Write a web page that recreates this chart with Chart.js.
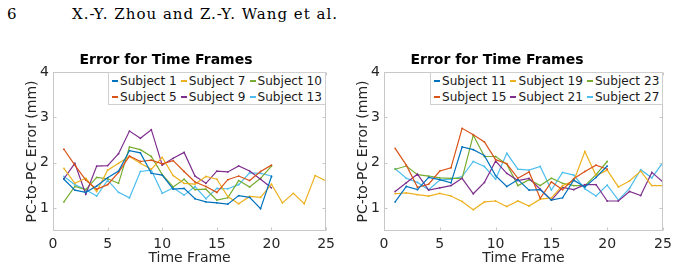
<!DOCTYPE html>
<html><head><meta charset="utf-8">
<script src="https://cdn.jsdelivr.net/npm/chart.js@4/dist/chart.umd.min.js"></script>
<style>
html,body{margin:0;padding:0;background:#fff;width:677px;height:272px;overflow:hidden;position:relative}
.hdr{position:absolute;top:4px;font-family:"DejaVu Serif",serif;font-size:15px;color:#000;white-space:nowrap;line-height:20px}
canvas{position:absolute;top:0}
.legend{position:absolute;background:#fff;border:1px solid #cfcfcf;box-sizing:border-box;padding:0 3px 0 3px;display:grid;grid-template-rows:16px 16px;grid-auto-flow:column;column-gap:4px;font-family:"DejaVu Sans",sans-serif;font-size:12.1px;color:#1a1a1a;line-height:16px;white-space:nowrap}
.legend .it{display:flex;align-items:center}
.legend .sw{display:inline-block;width:6px;height:1.3px;margin-right:2px}
</style>
</head><body>
<div class="hdr" style="left:7px">6</div>
<div class="hdr" style="left:72px;letter-spacing:1px">X.-Y. Zhou and Z.-Y. Wang et al.</div>
<canvas id="c1" width="340" height="272" style="left:0"></canvas>
<canvas id="c2" width="346" height="272" style="left:331px"></canvas>
<script>
// ---- data ----
const frames = [1,2,3,4,5,6,7,8,9,10,11,12,13,14,15,16,17,18,19,20,21,22,23,24,25];
const xTicks = [0,5,10,15,20,25];
const yTicks = [1,2,3,4];
const chartTitle = 'Error for Time Frames';
const xTitle = 'Time Frame';
const yTitle = 'PC-to-PC Error (mm)';
const colors = ['#0072BD','#D95319','#EDB120','#7E2F8E','#77AC30','#4DBEEE'];

const leftNames = ['Subject 1','Subject 5','Subject 7','Subject 9','Subject 10','Subject 13'];
const subject1  = [1.64,1.40,1.35,1.49,1.67,1.82,2.27,2.22,1.77,1.73,1.42,1.44,1.21,1.14,1.12,1.09,1.28,1.24,0.99,1.70];
const subject5  = [2.30,1.95,1.62,1.42,1.52,1.79,2.15,2.03,2.06,1.98,2.05,1.81,1.58,1.48,1.35,1.63,1.71,1.61,1.81,1.95];
const subject7  = [1.88,1.55,1.66,1.37,1.84,1.99,2.14,1.99,1.86,2.12,1.72,1.55,1.53,1.70,1.64,1.26,1.10,1.26,1.24,1.53,1.12,1.33,1.10,1.72,1.60];
const subject9  = [1.65,1.99,1.31,1.93,1.94,2.20,2.70,2.54,2.73,1.95,2.10,2.23,1.71,1.55,1.82,1.80,1.93,1.82,1.64,1.45];
const subject10 = [1.14,1.48,1.41,1.68,1.65,1.55,2.35,2.29,2.14,1.74,1.47,1.64,1.41,1.42,1.18,1.23,1.61,1.47,1.66,1.93];
const subject13 = [1.70,1.52,1.41,1.27,1.62,1.35,1.23,1.81,1.84,1.33,1.45,1.29,1.48,1.21,1.44,1.43,1.52,1.78,1.77,1.71];

const rightNames = ['Subject 11','Subject 15','Subject 19','Subject 21','Subject 23','Subject 27'];
const subject11 = [1.14,1.48,1.41,1.68,1.63,1.56,2.35,2.29,2.16,1.72,1.48,1.63,1.40,1.41,1.18,1.23,1.62,1.47,1.68,1.93];
const subject15 = [2.32,1.95,1.46,1.53,1.82,1.89,2.76,2.62,2.46,2.07,1.98,1.66,1.80,1.22,1.58,1.41,1.65,1.81,1.95,1.86];
const subject19 = [1.32,1.34,1.30,1.27,1.33,1.27,1.15,0.97,1.14,1.16,1.04,1.16,1.05,1.20,1.23,1.50,1.60,2.25,1.72,1.84,1.47,1.60,1.82,1.50,1.50];
const subject21 = [1.37,1.56,1.75,1.40,1.45,1.50,1.66,1.32,1.57,2.04,1.77,1.61,1.66,1.42,1.18,1.46,1.41,1.52,1.52,1.16,1.16,1.37,1.28,1.79,1.58];
const subject23 = [1.86,1.93,1.74,1.71,1.67,1.66,1.66,2.61,2.14,2.14,1.97,1.50,1.63,1.50,1.66,1.55,1.50,1.50,1.74,2.03];
const subject27 = [1.87,1.66,1.57,1.41,1.62,1.64,1.70,2.03,1.92,1.64,2.21,1.86,1.84,1.92,1.40,1.79,1.73,1.43,1.27,1.51,1.18,1.44,1.85,1.67,2.01];

const leftSeries  = [subject1, subject5, subject7, subject9, subject10, subject13];
const rightSeries = [subject11, subject15, subject19, subject21, subject23, subject27];

// ---- styling ----
const frameColor = '#c8c8c8';
const tickColor = '#262626';
const axFont = {family:'DejaVu Sans', size:14};

const framePlugin = {
  id:'frame',
  afterDatasetsDraw(chart){
    const {ctx, chartArea:a, scales:{x,y}} = chart;
    ctx.save();
    ctx.strokeStyle = frameColor; ctx.lineWidth = 1;
    const L=Math.round(a.left)+0.5, R=Math.round(a.right)-0.5, T=Math.round(a.top)+0.5, B=Math.round(a.bottom)-0.5;
    ctx.strokeRect(L,T,R-L,B-T);
    ctx.beginPath();
    xTicks.forEach(v=>{const p=Math.round(x.getPixelForValue(v))+0.5; ctx.moveTo(p,B); ctx.lineTo(p,B-3); ctx.moveTo(p,T); ctx.lineTo(p,T+3);});
    yTicks.forEach(v=>{const p=Math.round(y.getPixelForValue(v))+0.5; ctx.moveTo(L,p); ctx.lineTo(L+3,p); ctx.moveTo(R,p); ctx.lineTo(R-3,p);});
    ctx.stroke(); ctx.restore();
  }
};

function makeChart(id, names, series, rightPad){
  return new Chart(document.getElementById(id), {
    type:'line',
    data:{datasets: names.map((n,i)=>({
      label:n,
      data: series[i].map((v,j)=>({x:frames[j], y:v})),
      borderColor:colors[i], backgroundColor:colors[i],
      borderWidth:1.2, pointRadius:0.9, pointHoverRadius:0, pointBorderWidth:0,
      tension:0, fill:false
    }))},
    options:{
      responsive:false, animation:false, devicePixelRatio:1,
      layout:{padding:{left:0,right:rightPad,top:0,bottom:0}},
      plugins:{
        legend:{display:false}, tooltip:{enabled:false},
        title:{display:true, text:chartTitle, color:'#000',
          font:{family:'DejaVu Sans', size:14, weight:'bold'}, padding:{top:51.6,bottom:3.6}}
      },
      scales:{
        x:{type:'linear', min:0, max:25,
          afterBuildTicks:s=>{s.ticks = xTicks.map(v=>({value:v}));},
          grid:{display:false, drawTicks:false}, border:{display:false},
          ticks:{font:axFont, color:tickColor, padding:5, maxRotation:0, autoSkip:false},
          title:{display:true, text:xTitle, font:axFont, color:tickColor, padding:{top:0,bottom:5.6}},
          afterFit:s=>{s.height = 41;}
        },
        y:{type:'linear', min:0.5, max:4,
          afterBuildTicks:s=>{s.ticks = yTicks.map(v=>({value:v}));},
          grid:{display:false, drawTicks:false}, border:{display:false},
          ticks:{font:axFont, color:tickColor, padding:4},
          title:{display:true, text:yTitle, font:axFont, color:tickColor, padding:{top:24,bottom:0}},
          afterFit:s=>{s.width = 53;}
        }
      }
    },
    plugins:[framePlugin]
  });
}

function makeLegend(chart, offsetLeft, names){
  const d = document.createElement('div');
  d.className = 'legend';
  names.forEach((n,i)=>{
    const it = document.createElement('div'); it.className='it';
    const sw = document.createElement('span'); sw.className='sw'; sw.style.background = colors[i];
    const tx = document.createElement('span'); tx.textContent = n;
    it.appendChild(sw); it.appendChild(tx); d.appendChild(it);
  });
  document.body.appendChild(d);
  const a = chart.chartArea;
  d.style.top = Math.round(a.top) + 'px';
  d.style.height = '33px';
  d.style.left = (offsetLeft + Math.round(a.right) - d.offsetWidth) + 'px';
}

const ch1 = makeChart('c1', leftNames, leftSeries, 8);
const ch2 = makeChart('c2', rightNames, rightSeries, 14);
makeLegend(ch1, 0, leftNames);
makeLegend(ch2, 331, rightNames);
</script>
</body></html>
